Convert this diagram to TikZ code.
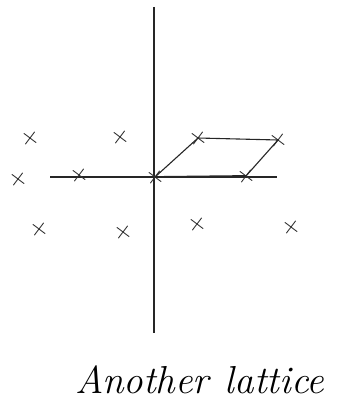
\documentclass[tikz,border=0pt]{standalone}
\usetikzlibrary{shapes.misc}
\begin{document}
\begin{tikzpicture}[x=1pt,y=-1pt,
  axis/.style={line width=1.2pt,black!85},
  edge/.style={line width=1.1pt,black!85},
  latpt/.style={cross out,draw=black!80,line width=0.9pt,minimum size=10pt,inner sep=0pt,rotate=8},
  hand/.style={font=\itshape\fontsize{39}{42}\selectfont,inner sep=0pt}]
\useasboundingbox (0,0) rectangle (347,404);
% axes
\coordinate (vt) at (154,7);
\coordinate (vb) at (154,333);
\coordinate (hl) at (50,177);
\coordinate (hr) at (277,177);
\draw[axis] (vt) -- (vb);
\draw[axis] (hl) -- (hr);
% lattice points
\node[latpt] (p1) at (30,138) {};
\node[latpt] (p2) at (120,137) {};
\node[latpt] (p3) at (198,138) {};
\node[latpt] (p4) at (278,140) {};
\node[latpt] (p5) at (18,179) {};
\node[latpt] (p6) at (79,175) {};
\node[latpt] (o) at (155,177) {};
\node[latpt] (p7) at (246,176) {};
\node[latpt] (p8) at (39,229) {};
\node[latpt] (p9) at (123,232) {};
\node[latpt] (p10) at (197,224) {};
\node[latpt] (p11) at (291,227) {};
% parallelogram
\draw[edge] (o.center) -- (p3.center) -- (p4.center) -- (p7.center);
\draw[line width=1.8pt,black!85] (o.center) -- (p7.center);
% label
\node[hand,anchor=base] (lab) at (200,393) {Another\hspace{16pt}lattice};
\end{tikzpicture}
\end{document}
